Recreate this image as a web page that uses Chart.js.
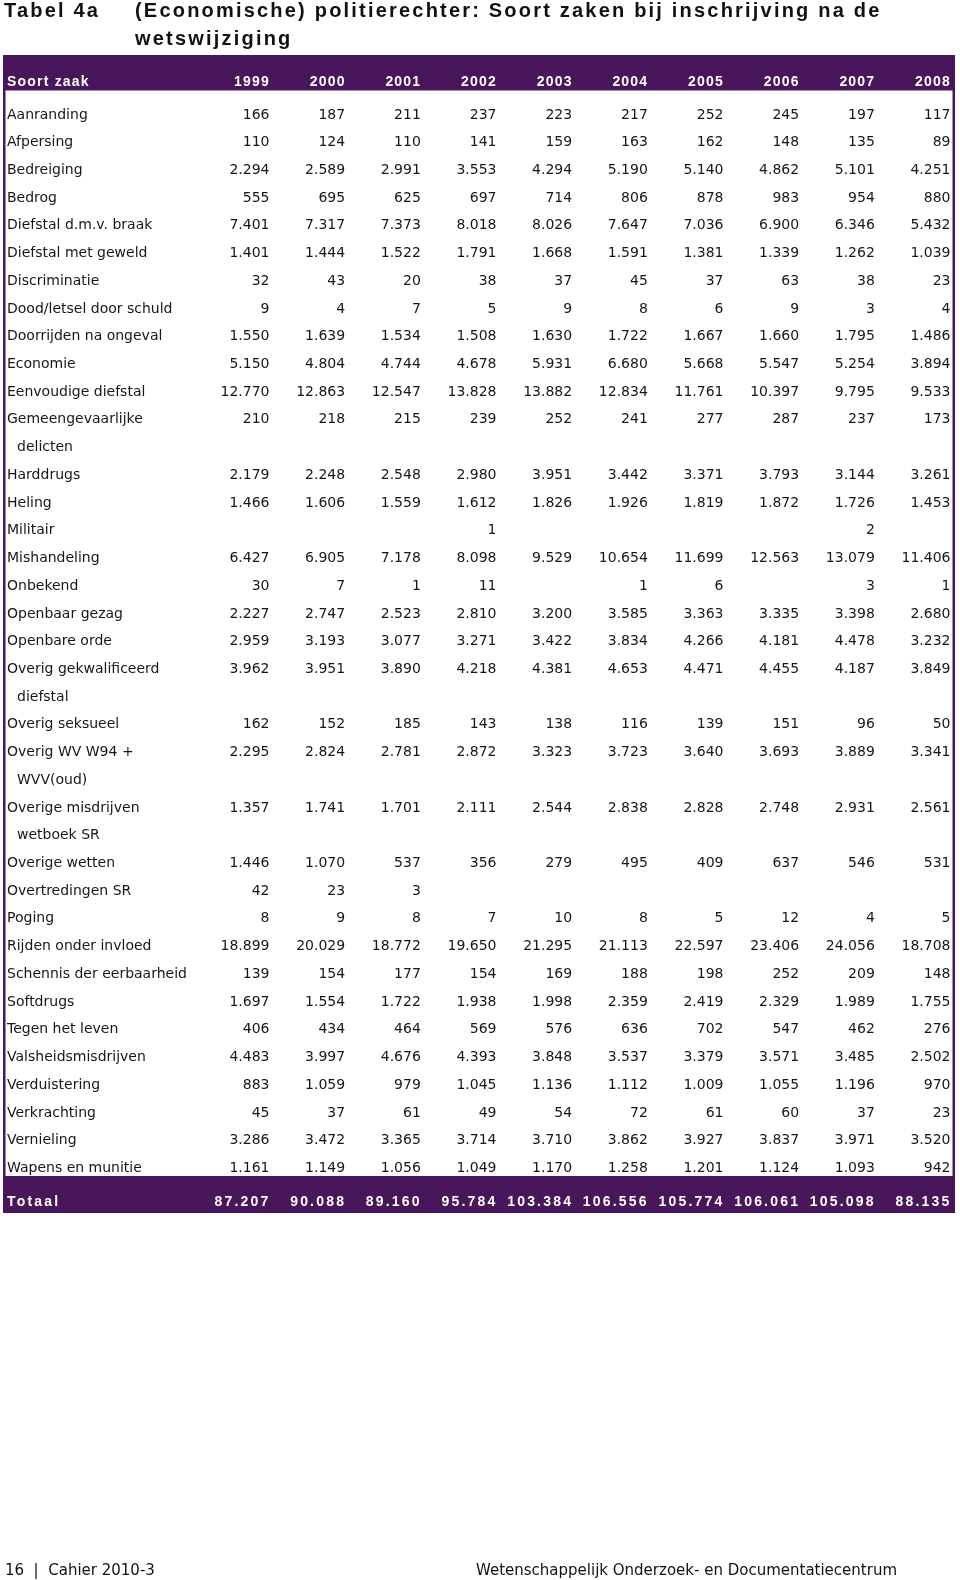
<!DOCTYPE html>
<html>
<head>
<meta charset="utf-8">
<script src="https://cdn.jsdelivr.net/npm/chart.js@4.4.1/dist/chart.umd.min.js"></script>
<style>
html,body{margin:0;padding:0;background:#fff;}
body{width:960px;height:1580px;position:relative;overflow:hidden;}
#wrap{position:absolute;left:0;top:0;width:960px;height:1580px;}
.t{position:absolute;font-family:'Liberation Sans',Arial,sans-serif;font-weight:bold;font-size:20px;letter-spacing:2.2px;color:#111;white-space:nowrap;line-height:28px;}
.f{position:absolute;font-family:'DejaVu Sans',sans-serif;font-size:15px;color:#111;white-space:nowrap;line-height:20px;}
</style>
</head>
<body>
<div id="wrap"><canvas id="c" width="960" height="1580"></canvas></div>
<div class="t" style="left:4px;top:-4.2px">Tabel 4a</div>
<div class="t" style="left:135px;top:-4.2px">(Economische) politierechter: Soort zaken bij inschrijving na de<br>wetswijziging</div>
<div class="f" style="left:5px;top:1560px">16 &nbsp;| &nbsp;Cahier 2010-3</div>
<div class="f" style="left:476px;top:1560px">Wetenschappelijk Onderzoek- en Documentatiecentrum</div>
<script>
// ---------- DATA ----------
const headerLabel = 'Soort zaak';
const totalLabel = 'Totaal';
const years = ['1999','2000','2001','2002','2003','2004','2005','2006','2007','2008'];
const categories = [
  ['Aanranding'], ['Afpersing'], ['Bedreiging'], ['Bedrog'], ['Diefstal d.m.v. braak'],
  ['Diefstal met geweld'], ['Discriminatie'], ['Dood/letsel door schuld'], ['Doorrijden na ongeval'],
  ['Economie'], ['Eenvoudige diefstal'], ['Gemeengevaarlijke','delicten'], ['Harddrugs'], ['Heling'],
  ['Militair'], ['Mishandeling'], ['Onbekend'], ['Openbaar gezag'], ['Openbare orde'],
  ['Overig gekwalificeerd','diefstal'], ['Overig seksueel'], ['Overig WV W94 +','WVV(oud)'],
  ['Overige misdrijven','wetboek SR'], ['Overige wetten'], ['Overtredingen SR'], ['Poging'],
  ['Rijden onder invloed'], ['Schennis der eerbaarheid'], ['Softdrugs'], ['Tegen het leven'],
  ['Valsheidsmisdrijven'], ['Verduistering'], ['Verkrachting'], ['Vernieling'], ['Wapens en munitie']
];
const v1999 = [166,110,2294,555,7401,1401,32,9,1550,5150,12770,210,2179,1466,null,6427,30,2227,2959,3962,162,2295,1357,1446,42,8,18899,139,1697,406,4483,883,45,3286,1161];
const v2000 = [187,124,2589,695,7317,1444,43,4,1639,4804,12863,218,2248,1606,null,6905,7,2747,3193,3951,152,2824,1741,1070,23,9,20029,154,1554,434,3997,1059,37,3472,1149];
const v2001 = [211,110,2991,625,7373,1522,20,7,1534,4744,12547,215,2548,1559,null,7178,1,2523,3077,3890,185,2781,1701,537,3,8,18772,177,1722,464,4676,979,61,3365,1056];
const v2002 = [237,141,3553,697,8018,1791,38,5,1508,4678,13828,239,2980,1612,1,8098,11,2810,3271,4218,143,2872,2111,356,null,7,19650,154,1938,569,4393,1045,49,3714,1049];
const v2003 = [223,159,4294,714,8026,1668,37,9,1630,5931,13882,252,3951,1826,null,9529,null,3200,3422,4381,138,3323,2544,279,null,10,21295,169,1998,576,3848,1136,54,3710,1170];
const v2004 = [217,163,5190,806,7647,1591,45,8,1722,6680,12834,241,3442,1926,null,10654,1,3585,3834,4653,116,3723,2838,495,null,8,21113,188,2359,636,3537,1112,72,3862,1258];
const v2005 = [252,162,5140,878,7036,1381,37,6,1667,5668,11761,277,3371,1819,null,11699,6,3363,4266,4471,139,3640,2828,409,null,5,22597,198,2419,702,3379,1009,61,3927,1201];
const v2006 = [245,148,4862,983,6900,1339,63,9,1660,5547,10397,287,3793,1872,null,12563,null,3335,4181,4455,151,3693,2748,637,null,12,23406,252,2329,547,3571,1055,60,3837,1124];
const v2007 = [197,135,5101,954,6346,1262,38,3,1795,5254,9795,237,3144,1726,2,13079,3,3398,4478,4187,96,3889,2931,546,null,4,24056,209,1989,462,3485,1196,37,3971,1093];
const v2008 = [117,89,4251,880,5432,1039,23,4,1486,3894,9533,173,3261,1453,null,11406,1,2680,3232,3849,50,3341,2561,531,null,5,18708,148,1755,276,2502,970,23,3520,942];
const totals = [87207,90088,89160,95784,103384,106556,105774,106061,105098,88135];

// ---------- LAYOUT / STYLE ----------
const purple = '#4a165b';
const ink = '#161616';
const L = {
  tableLeft: 3, tableRight: 955, border: 2.5,
  headTop: 55, headBottom: 90.5, headBase: 86,
  totTop: 1176, totBottom: 1213, totBase: 1206,
  labelX: 7, indentX: 17,
  colFirst: 269.5, colLast: 950.5, rowFirst: 118.5, rowLast: 1172
};
const bodyFont = '14px "DejaVu Sans", sans-serif';
const headFont = 'bold 14px "Liberation Sans", Arial, sans-serif';

const series = [v1999,v2000,v2001,v2002,v2003,v2004,v2005,v2006,v2007,v2008];
const rowLine = [];
let nLines = 0;
categories.forEach(c => { rowLine.push(nLines); nLines += c.length; });

const fmt = v => String(v).replace(/\B(?=(\d{3})+(?!\d))/g, '.');

const datasets = years.map((yr, j) => ({
  label: yr,
  data: series[j].map((v, i) => v == null ? null : ({x: j, y: rowLine[i], v})).filter(p => p),
  pointRadius: 0, pointHoverRadius: 0, showLine: false
}));

const tablePlugin = {
  id: 'tableCells',
  beforeDatasetsDraw(chart) {
    const {ctx} = chart;
    ctx.save();
    ctx.fillStyle = purple;
    const w = L.tableRight - L.tableLeft;
    ctx.fillRect(L.tableLeft, L.headTop, w, L.headBottom - L.headTop);
    ctx.fillRect(L.tableLeft, L.totTop, w, L.totBottom - L.totTop);
    ctx.fillRect(L.tableLeft, L.headTop, L.border, L.totBottom - L.headTop);
    ctx.fillRect(L.tableRight - L.border, L.headTop, L.border, L.totBottom - L.headTop);
    ctx.restore();
  },
  afterDatasetsDraw(chart) {
    const {ctx, scales: {x, y}} = chart;
    ctx.save();
    ctx.textBaseline = 'alphabetic';
    ctx.font = bodyFont;
    ctx.fillStyle = ink;
    ctx.textAlign = 'left';
    categories.forEach((lines, i) => lines.forEach((t, k) => {
      ctx.fillText(t, k ? L.indentX : L.labelX, y.getPixelForValue(rowLine[i] + k));
    }));
    ctx.textAlign = 'right';
    chart.data.datasets.forEach((ds, j) => {
      chart.getDatasetMeta(j).data.forEach((pt, idx) => {
        ctx.fillText(fmt(ds.data[idx].v), pt.x, pt.y);
      });
    });
    ctx.font = headFont;
    ctx.fillStyle = '#ffffff';
    ctx.letterSpacing = '1.2px';
    ctx.textAlign = 'left';
    ctx.fillText(headerLabel, L.labelX, L.headBase);
    ctx.textAlign = 'right';
    years.forEach((yr, j) => ctx.fillText(yr, x.getPixelForValue(j) + 0.5, L.headBase));
    ctx.letterSpacing = '2.2px';
    ctx.textAlign = 'left';
    ctx.fillText(totalLabel, L.labelX, L.totBase);
    ctx.textAlign = 'right';
    totals.forEach((v, j) => ctx.fillText(fmt(v), x.getPixelForValue(j) + 1, L.totBase));
    ctx.restore();
  }
};

new Chart(document.getElementById('c'), {
  type: 'scatter',
  data: {datasets},
  options: {
    responsive: false, animation: false, events: [],
    layout: {padding: {left: L.colFirst, right: 960 - L.colLast, top: L.rowFirst, bottom: 1580 - L.rowLast}},
    plugins: {legend: {display: false}, tooltip: {enabled: false}},
    scales: {
      x: {type: 'linear', min: 0, max: years.length - 1, display: false},
      y: {type: 'linear', min: 0, max: nLines - 1, reverse: true, display: false}
    }
  },
  plugins: [tablePlugin]
});
</script>
</body>
</html>
